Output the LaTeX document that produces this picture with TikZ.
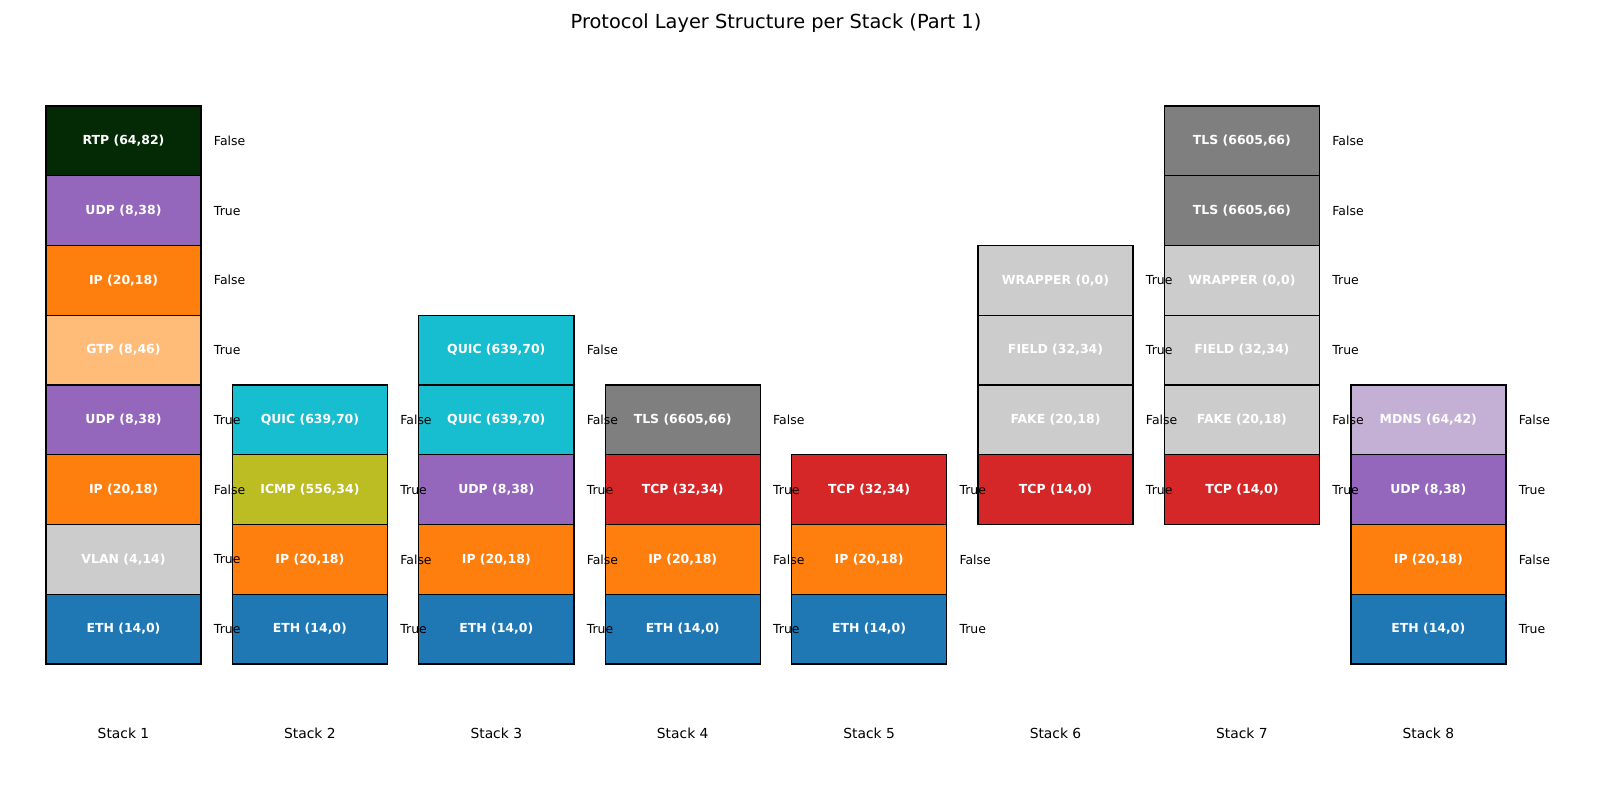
\documentclass[tikz,border=0pt]{standalone}
\usepackage{fontspec}
\setmainfont{DejaVu Sans}
\usepackage{tikz}
\usetikzlibrary{positioning}

\definecolor{ethc}{HTML}{1F77B4}
\definecolor{ipc}{HTML}{FF7F0E}
\definecolor{udpc}{HTML}{9467BD}
\definecolor{gtpc}{HTML}{FFBB78}
\definecolor{greyc}{HTML}{CCCCCC}
\definecolor{rtpc}{HTML}{032A05}
\definecolor{quicc}{HTML}{17BECF}
\definecolor{icmpc}{HTML}{BCBD22}
\definecolor{tlsc}{HTML}{7F7F7F}
\definecolor{tcpc}{HTML}{D62728}
\definecolor{mdnsc}{HTML}{C5B0D5}

\begin{document}
\begin{tikzpicture}[x=0.72bp, y=-0.72bp]
	\tikzstyle{layer} = [draw, line width=1bp, minimum width=111.6bp, minimum height=50.22bp, inner sep=0pt, text=white, font=\fontsize{9}{11}\selectfont\bfseries]
	\tikzstyle{flag} = [inner sep=0pt, font=\fontsize{9}{11}\selectfont]
	\tikzstyle{stacklbl} = [inner sep=0pt, font=\fontsize{10}{12}\selectfont]

	\useasboundingbox (0,0) rectangle (1600,800);
	\node[font=\fontsize{14}{17}\selectfont] (title) at (776,23) {Protocol Layer Structure per Stack (Part 1)};

	% stacks drawn right to left, so each flag lies over the next stack
	% Stack 8
	\foreach \txt/\col/\val [count=\r from 0] in {{ETH (14,0)}/ethc/True, {IP (20,18)}/ipc/False, {UDP (8,38)}/udpc/True, {MDNS (64,42)}/mdnsc/False}
	{
		\node[layer, fill=\col] (s8-\r) at (1428.3, {629.1-69.75*\r}) {\txt};
		\node[flag, right=8.64bp of s8-\r] (f8-\r) {\val};
	}
	\node[stacklbl] (lbl8) at (1428.3,733) {Stack 8};

	% Stack 7
	\foreach \txt/\col/\val [count=\r from 2] in {{TCP (14,0)}/tcpc/True, {FAKE (20,18)}/greyc/False, {FIELD (32,34)}/greyc/True, {WRAPPER (0,0)}/greyc/True, {TLS (6605,66)}/tlsc/False, {TLS (6605,66)}/tlsc/False}
	{
		\node[layer, fill=\col] (s7-\r) at (1241.9, {629.1-69.75*\r}) {\txt};
		\node[flag, right=8.64bp of s7-\r] (f7-\r) {\val};
	}
	\node[stacklbl] (lbl7) at (1241.9,733) {Stack 7};

	% Stack 6
	\foreach \txt/\col/\val [count=\r from 2] in {{TCP (14,0)}/tcpc/True, {FAKE (20,18)}/greyc/False, {FIELD (32,34)}/greyc/True, {WRAPPER (0,0)}/greyc/True}
	{
		\node[layer, fill=\col] (s6-\r) at (1055.5, {629.1-69.75*\r}) {\txt};
		\node[flag, right=8.64bp of s6-\r] (f6-\r) {\val};
	}
	\node[stacklbl] (lbl6) at (1055.5,733) {Stack 6};

	% Stack 5
	\foreach \txt/\col/\val [count=\r from 0] in {{ETH (14,0)}/ethc/True, {IP (20,18)}/ipc/False, {TCP (32,34)}/tcpc/True}
	{
		\node[layer, fill=\col] (s5-\r) at (869.1, {629.1-69.75*\r}) {\txt};
		\node[flag, right=8.64bp of s5-\r] (f5-\r) {\val};
	}
	\node[stacklbl] (lbl5) at (869.1,733) {Stack 5};

	% Stack 4
	\foreach \txt/\col/\val [count=\r from 0] in {{ETH (14,0)}/ethc/True, {IP (20,18)}/ipc/False, {TCP (32,34)}/tcpc/True, {TLS (6605,66)}/tlsc/False}
	{
		\node[layer, fill=\col] (s4-\r) at (682.7, {629.1-69.75*\r}) {\txt};
		\node[flag, right=8.64bp of s4-\r] (f4-\r) {\val};
	}
	\node[stacklbl] (lbl4) at (682.7,733) {Stack 4};

	% Stack 3
	\foreach \txt/\col/\val [count=\r from 0] in {{ETH (14,0)}/ethc/True, {IP (20,18)}/ipc/False, {UDP (8,38)}/udpc/True, {QUIC (639,70)}/quicc/False, {QUIC (639,70)}/quicc/False}
	{
		\node[layer, fill=\col] (s3-\r) at (496.3, {629.1-69.75*\r}) {\txt};
		\node[flag, right=8.64bp of s3-\r] (f3-\r) {\val};
	}
	\node[stacklbl] (lbl3) at (496.3,733) {Stack 3};

	% Stack 2
	\foreach \txt/\col/\val [count=\r from 0] in {{ETH (14,0)}/ethc/True, {IP (20,18)}/ipc/False, {ICMP (556,34)}/icmpc/True, {QUIC (639,70)}/quicc/False}
	{
		\node[layer, fill=\col] (s2-\r) at (309.9, {629.1-69.75*\r}) {\txt};
		\node[flag, right=8.64bp of s2-\r] (f2-\r) {\val};
	}
	\node[stacklbl] (lbl2) at (309.9,733) {Stack 2};

	% Stack 1
	\foreach \txt/\col/\val [count=\r from 0] in {{ETH (14,0)}/ethc/True, {VLAN (4,14)}/greyc/True, {IP (20,18)}/ipc/False, {UDP (8,38)}/udpc/True, {GTP (8,46)}/gtpc/True, {IP (20,18)}/ipc/False, {UDP (8,38)}/udpc/True, {RTP (64,82)}/rtpc/False}
	{
		\node[layer, fill=\col] (s1-\r) at (123.5, {629.1-69.75*\r}) {\txt};
		\node[flag, right=8.64bp of s1-\r] (f1-\r) {\val};
	}
	\node[stacklbl] (lbl1) at (123.5,733) {Stack 1};
\end{tikzpicture}
\end{document}
